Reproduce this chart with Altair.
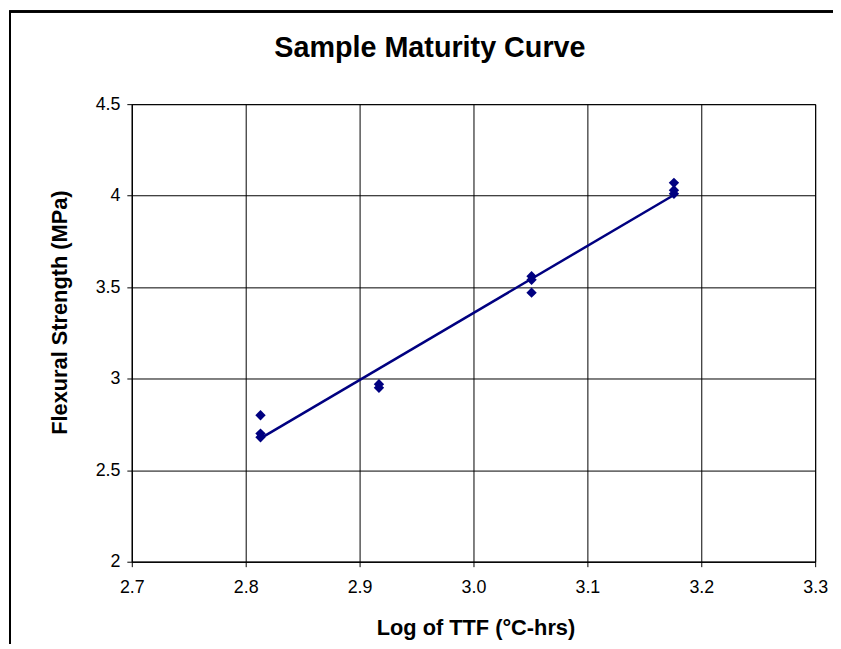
import altair as alt
import pandas as pd

# Log of TTF (°C-hrs) for each specimen, and measured flexural strength (MPa)
log_ttf = [2.813, 2.813, 2.813, 2.917, 2.917, 3.051, 3.051, 3.051, 3.176, 3.176, 3.176]
strength = [2.80, 2.70, 2.68, 2.97, 2.95, 3.56, 3.54, 3.47, 4.07, 4.03, 4.01]

x_ticks = [2.7, 2.8, 2.9, 3.0, 3.1, 3.2, 3.3]
y_ticks = [2.0, 2.5, 3.0, 3.5, 4.0, 4.5]

df = pd.DataFrame({"x": log_ttf, "y": strength})

FONT = "Liberation Sans"
NAVY = "#000080"

x_enc = alt.X(
    "x:Q",
    scale=alt.Scale(domain=[2.7, 3.3], nice=False, zero=False),
    axis=alt.Axis(
        values=x_ticks,
        format=".1f",
        title="Log of TTF (°C-hrs)",
        titleX=347,
        titleY=73,
        titleAlign="center",
        titleBaseline="alphabetic",
        labelPadding=12,
        labelFlush=False,
    ),
)
y_enc = alt.Y(
    "y:Q",
    scale=alt.Scale(domain=[2, 4.5], nice=False, zero=False),
    axis=alt.Axis(
        values=y_ticks,
        format="~g",
        title="Flexural Strength (MPa)",
        titleX=-66,
        titleY=210,
        titleAlign="center",
        titleBaseline="alphabetic",
        titleAngle=270,
        labelPadding=7,
        labelFlush=False,
    ),
)

base = alt.Chart(df)

points = base.mark_point(
    shape="diamond", filled=True, size=110, color=NAVY, opacity=1
).encode(x=x_enc, y=y_enc)

trend = base.transform_regression("x", "y").mark_line(
    color=NAVY, strokeWidth=2.5
).encode(x="x:Q", y="y:Q")

frame_left = alt.Chart(df).mark_rule(color="black", strokeWidth=1.5, clip=False).encode(
    x=alt.value(-123), y=alt.value(-93.5), y2=alt.value(560)
)
frame_top = alt.Chart(df).mark_rule(color="black", strokeWidth=1.5, clip=False).encode(
    x=alt.value(-123.75), x2=alt.value(720), y=alt.value(-93.5)
)

chart = (
    alt.layer(trend, points, frame_left, frame_top)
    .properties(
        width=690,
        height=462,
        background="white",
        title=alt.TitleParams(
            "Sample Maturity Curve",
            font=FONT,
            fontSize=29,
            fontWeight="bold",
            color="black",
            anchor="middle",
            frame="group",
            baseline="alphabetic",
            dx=-44,
            offset=-76,
        ),
        autosize=alt.AutoSizeParams(type="none"),
        padding={"left": 125, "top": 94, "right": 18, "bottom": 80},
    )
    .configure_view(stroke="black", strokeWidth=1)
    .configure_axis(
        grid=True,
        gridColor="black",
        gridWidth=1,
        gridOpacity=1,
        domainColor="black",
        domainWidth=1,
        tickColor="black",
        tickSize=5,
        labelFont=FONT,
        labelFontSize=18,
        labelColor="black",
        titleFont=FONT,
        titleFontSize=22,
        titleFontWeight="bold",
        titleColor="black",
    )
)

chart.save("out.html", embed_options={"renderer": "svg", "actions": False})
